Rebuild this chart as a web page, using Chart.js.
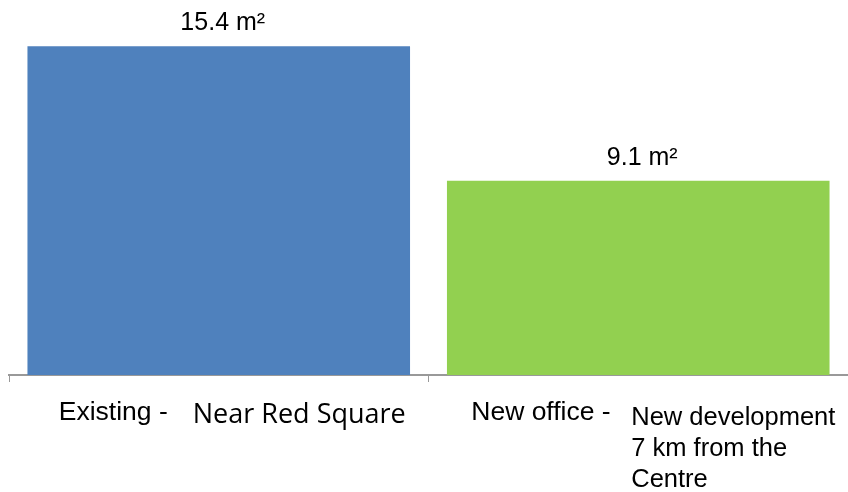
<!DOCTYPE html>
<html>
<head>
<meta charset="utf-8">
<script src="https://cdn.jsdelivr.net/npm/chart.js@4.4.1/dist/chart.umd.min.js"></script>
<style>
    html, body { margin: 0; padding: 0; background: #ffffff; }
    #grafico { display: block; }
</style>
</head>
<body>
<canvas id="grafico" width="848" height="492"></canvas>
<script>
// office space per employee
const categorias = ['Existing -', 'New office -'];
const descricoes = [['Near Red Square'], ['New development', '7 km from the', 'Centre']];
const areas = [15.4, 9.1];
const unidade = 'm²';
const cores = ['#4f81bd', '#92d050'];
const eixoMax = 17.56;

// where each label sits relative to its category centre
const layoutRotulos = [
    { inicioPrefixo: -160, inicioDesc: -26, fonteDesc: '27px "Open Sans"', baseDesc: 423 },
    { inicioPrefixo: -167, inicioDesc: -7, fonteDesc: '25.5px "Liberation Sans"', baseDesc: 425 }
];

const rotulosPlugin = {
    id: 'rotulos',
    afterDatasetsDraw(chart) {
        const ctx = chart.ctx;
        const meta = chart.getDatasetMeta(0);
        const x = chart.scales.x;
        ctx.save();
        ctx.fillStyle = '#000000';

        // value above each bar
        ctx.font = '25px "Liberation Sans"';
        ctx.textAlign = 'center';
        ctx.textBaseline = 'alphabetic';
        meta.data.forEach((bar, i) => {
            ctx.fillText(areas[i].toFixed(1) + ' ' + unidade, bar.x + 4, bar.y - 16);
        });

        // category label split into prefix and description
        categorias.forEach((cat, i) => {
            const centro = x.getPixelForValue(i);
            const lay = layoutRotulos[i];
            ctx.font = '26.5px "Liberation Sans"';
            ctx.textAlign = 'left';
            ctx.fillText(cat, centro + lay.inicioPrefixo, 420);
            ctx.font = lay.fonteDesc;
            descricoes[i].forEach((linha, j) => {
                ctx.fillText(linha, centro + lay.inicioDesc, lay.baseDesc + j * 31);
            });
        });
        ctx.restore();
    }
};

const ctx = document.getElementById('grafico').getContext('2d');
new Chart(ctx, {
    type: 'bar',
    data: {
        labels: categorias,
        datasets: [{
            data: areas,
            backgroundColor: cores,
            borderWidth: 0,
            categoryPercentage: 1,
            barPercentage: 0.912
        }]
    },
    options: {
        responsive: false,
        animation: false,
        layout: { padding: { left: 9, right: -1, top: 0, bottom: 0 } },
        plugins: {
            legend: { display: false },
            tooltip: { enabled: false }
        },
        scales: {
            x: {
                offset: true,
                grid: {
                    offset: true,
                    drawOnChartArea: false,
                    drawTicks: true,
                    tickLength: 7,
                    color: '#999999'
                },
                border: { color: '#999999', width: 2 },
                ticks: { display: false },
                afterFit(scale) { scale.height = 492 - 375; }
            },
            y: {
                display: false,
                min: 0,
                max: eixoMax
            }
        }
    },
    plugins: [rotulosPlugin]
});
</script>
</body>
</html>
